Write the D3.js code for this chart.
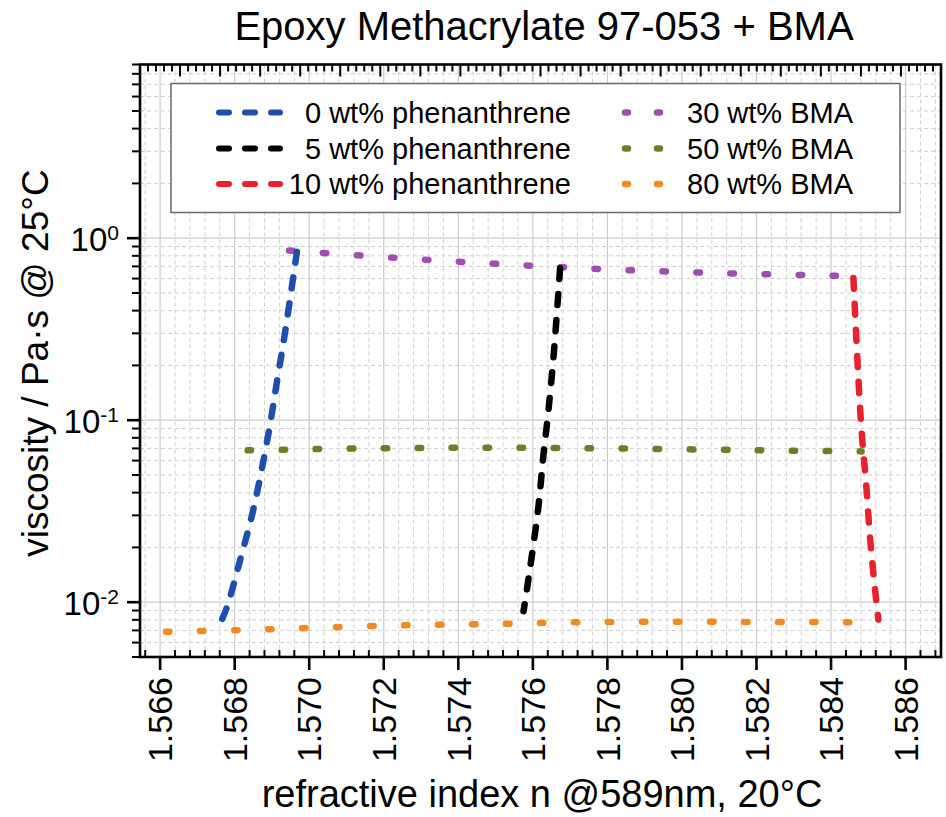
<!DOCTYPE html>
<html><head><meta charset="utf-8">
<script src="https://cdn.jsdelivr.net/npm/d3@7"></script>
<style>
body{margin:0;background:#fff}
svg{display:block}
text{font-family:"Liberation Sans",Arial,Helvetica,sans-serif;fill:#000}
</style>
</head><body>
<svg id="chart" width="946" height="817"></svg>
<script>
// ---------- text ----------
const chartTitle = "Epoxy Methacrylate 97-053 + BMA";
const xTitle = "refractive index n @589nm, 20°C";
const yTitle = "viscosity / Pa·s @ 25°C";

// ---------- ticks ----------
const xTickValues = [1.566, 1.568, 1.570, 1.572, 1.574, 1.576, 1.578, 1.580, 1.582, 1.584, 1.586];
const xTickLabels = ["1.566", "1.568", "1.570", "1.572", "1.574", "1.576", "1.578", "1.580", "1.582", "1.584", "1.586"];
const yTickValues = [0.01, 0.1, 1];
const yTickExponents = ["-2", "-1", "0"];

// ---------- series (refractive index n, viscosity Pa·s) ----------
// phenanthrene lines listed from high viscosity (30 wt% BMA) down to low (80 wt% BMA)
const phen0_n   = [1.56967, 1.56935, 1.56913, 1.56891, 1.56850, 1.56815, 1.56777, 1.56752];
const phen0_eta = [0.841, 0.302, 0.1606, 0.0851, 0.03227, 0.01715, 0.00912, 0.00702];

const phen5_n   = [1.57673, 1.57657, 1.57642, 1.57628, 1.57615, 1.57588, 1.57575];
const phen5_eta = [0.684, 0.244, 0.1142, 0.0633, 0.03364, 0.01332, 0.00893];

const phen10_n   = [1.58460, 1.58474, 1.58483, 1.58494, 1.58505, 1.58518, 1.58527];
const phen10_eta = [0.605, 0.160, 0.0815, 0.0452, 0.02208, 0.01174, 0.00804];

const bma30_n   = [1.56946, 1.57230, 1.57502, 1.57773, 1.58053, 1.58411, 1.58451];
const bma30_eta = [0.855, 0.780, 0.723, 0.678, 0.647, 0.621, 0.617];

const bma50_n   = [1.56835, 1.57206, 1.57662, 1.58299, 1.58482];
const bma50_eta = [0.0683, 0.0702, 0.0704, 0.0680, 0.0674];

const bma80_n   = [1.56616, 1.56804, 1.56984, 1.57259, 1.57530, 1.57713, 1.58449];
const bma80_eta = [0.00688, 0.00702, 0.00720, 0.00748, 0.00761, 0.00777, 0.00777];

const legendLabels = ["0 wt% phenanthrene", "5 wt% phenanthrene", "10 wt% phenanthrene",
                      "30 wt% BMA", "50 wt% BMA", "80 wt% BMA"];
const seriesColors = ["#1f4fae", "#000000", "#e8212b", "#a24db3", "#6e7d27", "#f28a22"];

// ---------- layout ----------
const L = 140, R = 941, T = 64.5, B = 657;
const svg = d3.select("#chart");
const x = d3.scaleLinear().domain([1.56546, 1.58695]).range([L, R]);
const y = d3.scaleLog().domain([0.005, 9]).range([B, T]);
const xTop = d3.scaleLinear().domain([0, 100]).range([L, R]);

svg.append("rect").attr("width", 946).attr("height", 817).attr("fill", "#fff");

const xMinor = d3.range(1.5656, 1.5869, 0.0004).filter(v => !xTickValues.some(t => Math.abs(t - v) < 1e-6));
const yMinor = [];
[0.001, 0.01, 0.1, 1].forEach(d => { for (let k = 2; k <= 9; k++) { const v = d * k; if (v >= 0.005 && v <= 9.001) yMinor.push(v); } });

// ---------- grid ----------
const grid = svg.append("g");
grid.selectAll(".gxm").data(xMinor).join("line")
  .attr("x1", d => x(d)).attr("x2", d => x(d)).attr("y1", T).attr("y2", B)
  .attr("stroke", "#cfcfcf").attr("stroke-width", 1).attr("stroke-dasharray", "4,3");
grid.selectAll(".gym").data(yMinor).join("line")
  .attr("x1", L).attr("x2", R).attr("y1", d => y(d)).attr("y2", d => y(d))
  .attr("stroke", "#cfcfcf").attr("stroke-width", 1).attr("stroke-dasharray", "4,3");
grid.selectAll(".gx").data(xTickValues).join("line")
  .attr("x1", d => x(d)).attr("x2", d => x(d)).attr("y1", T).attr("y2", B)
  .attr("stroke", "#cccccc").attr("stroke-width", 1.2);
grid.selectAll(".gy").data(yTickValues).join("line")
  .attr("x1", L).attr("x2", R).attr("y1", d => y(d)).attr("y2", d => y(d))
  .attr("stroke", "#cccccc").attr("stroke-width", 1.2);

// ---------- series ----------
function pts(ns, etas) { return ns.map((n, i) => [n, etas[i]]); }
const line = d3.line().x(d => x(d[0])).y(d => y(d[1])).curve(d3.curveCatmullRom.alpha(0.5));

const dotted = [
  { p: pts(bma30_n, bma30_eta), c: seriesColors[3] },
  { p: pts(bma50_n, bma50_eta), c: seriesColors[4] },
  { p: pts(bma80_n, bma80_eta), c: seriesColors[5] }
];
const dashed = [
  { p: pts(phen0_n, phen0_eta), c: seriesColors[0] },
  { p: pts(phen5_n, phen5_eta), c: seriesColors[1] },
  { p: pts(phen10_n, phen10_eta), c: seriesColors[2] }
];
const plotG = svg.append("g");
plotG.selectAll(".dot").data(dotted).join("path")
  .attr("d", d => line(d.p)).attr("fill", "none").attr("stroke", d => d.c)
  .attr("stroke-width", 6.5).attr("stroke-linecap", "round").attr("stroke-dasharray", "3.5,30.5");
plotG.selectAll(".dash").data(dashed).join("path")
  .attr("d", d => line(d.p)).attr("fill", "none").attr("stroke", d => d.c)
  .attr("stroke-width", 6.5).attr("stroke-linecap", "round").attr("stroke-dasharray", "11,15");

// ---------- legend ----------
const lg = svg.append("g");
lg.append("rect").attr("x", 171).attr("y", 83.5).attr("width", 729).attr("height", 129)
  .attr("fill", "#fff").attr("stroke", "#6a6a6a").attr("stroke-width", 1.5);
const rowsY = [112.5, 148.5, 184];
legendLabels.forEach((lab, i) => {
  const col = i < 3 ? 0 : 1, r = i % 3, cy = rowsY[r];
  if (col === 0) {
    lg.append("line").attr("x1", 219).attr("x2", 280).attr("y1", cy).attr("y2", cy)
      .attr("stroke", seriesColors[i]).attr("stroke-width", 6).attr("stroke-linecap", "round")
      .attr("stroke-dasharray", "10,16");
    lg.append("text").attr("x", 571).attr("y", cy + 10).attr("text-anchor", "end")
      .attr("font-size", 29).text(lab);
  } else {
    lg.append("line").attr("x1", 625).attr("x2", 662).attr("y1", cy).attr("y2", cy)
      .attr("stroke", seriesColors[i]).attr("stroke-width", 6.5).attr("stroke-linecap", "round")
      .attr("stroke-dasharray", "3,29");
    lg.append("text").attr("x", 687).attr("y", cy + 10).attr("text-anchor", "start")
      .attr("font-size", 29).text(lab);
  }
});

// ---------- axes ----------
const ax = svg.append("g");
ax.append("rect").attr("x", L).attr("y", T).attr("width", R - L).attr("height", B - T)
  .attr("fill", "none").attr("stroke", "#000").attr("stroke-width", 2.6);

ax.selectAll(".bM").data(xTickValues).join("line")
  .attr("x1", d => x(d)).attr("x2", d => x(d)).attr("y1", B).attr("y2", B + 13)
  .attr("stroke", "#000").attr("stroke-width", 2.6);
ax.selectAll(".bm").data(xMinor).join("line")
  .attr("x1", d => x(d)).attr("x2", d => x(d)).attr("y1", B).attr("y2", B - 7)
  .attr("stroke", "#000").attr("stroke-width", 2);
ax.selectAll(".bl").data(xTickValues).join("text")
  .attr("transform", d => `translate(${x(d)},${B + 20}) rotate(-90)`)
  .attr("text-anchor", "end").attr("dy", "0.36em").attr("font-size", 34)
  .text((d, i) => xTickLabels[i]);

const topTicks = d3.range(1, 100, 1);
ax.selectAll(".tt").data(topTicks).join("line")
  .attr("x1", d => xTop(d)).attr("x2", d => xTop(d)).attr("y1", T)
  .attr("y2", d => T + (d % 5 === 0 ? 12 : 7))
  .attr("stroke", "#000").attr("stroke-width", 2);

ax.selectAll(".lM").data(yTickValues).join("line")
  .attr("x1", L - 13).attr("x2", L).attr("y1", d => y(d)).attr("y2", d => y(d))
  .attr("stroke", "#000").attr("stroke-width", 2.6);
ax.selectAll(".lm").data(yMinor).join("line")
  .attr("x1", L - 8).attr("x2", L).attr("y1", d => y(d)).attr("y2", d => y(d))
  .attr("stroke", "#000").attr("stroke-width", 2);
const yl = ax.selectAll(".ylab").data(yTickValues).join("text")
  .attr("x", 119).attr("y", d => y(d) + 13).attr("text-anchor", "end").attr("font-size", 33);
yl.append("tspan").text("10");
yl.append("tspan").attr("dy", "-0.55em").attr("font-size", 21).text((d, i) => yTickExponents[i]);

// ---------- titles ----------
svg.append("text").attr("x", 544).attr("y", 40).attr("text-anchor", "middle")
  .attr("font-size", 40).text(chartTitle);
svg.append("text").attr("x", 542).attr("y", 807).attr("text-anchor", "middle")
  .attr("font-size", 38).text(xTitle);
svg.append("text").attr("transform", "translate(48,363) rotate(-90)").attr("text-anchor", "middle")
  .attr("font-size", 37).text(yTitle);
</script>
</body></html>
